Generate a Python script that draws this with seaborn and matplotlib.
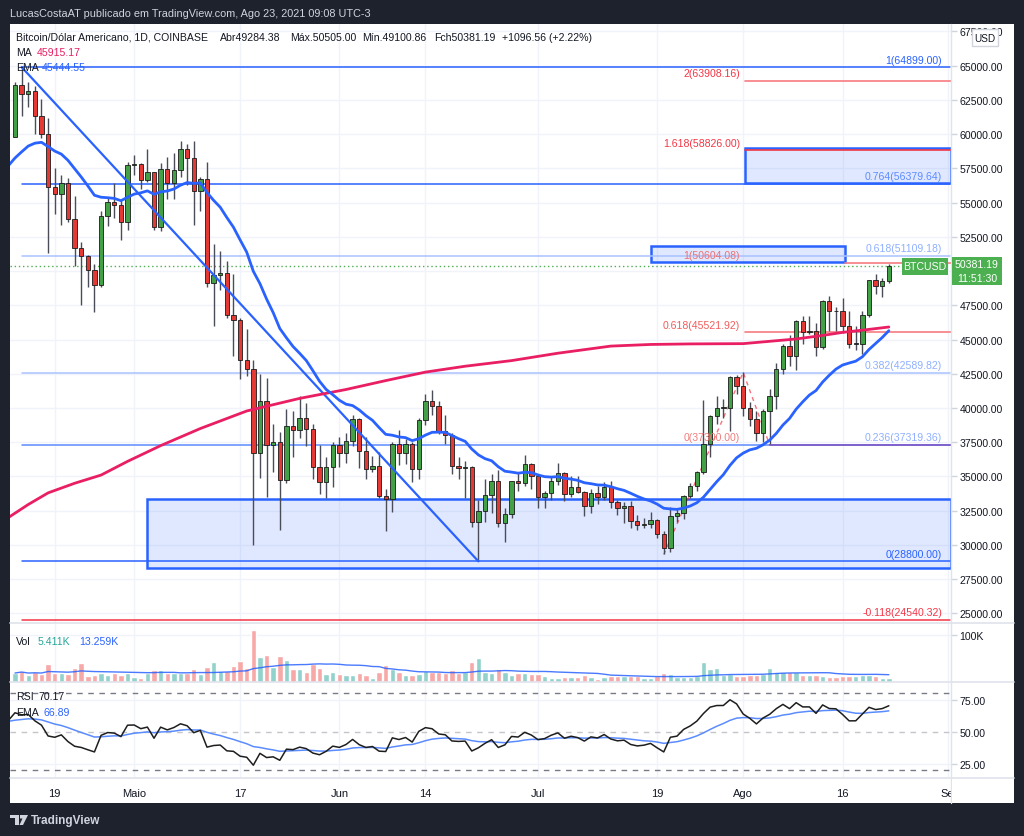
import numpy as np
import pandas as pd
import matplotlib
matplotlib.use("Agg")
import matplotlib.pyplot as plt
import seaborn as sns
from matplotlib.patches import Rectangle, Polygon
from matplotlib.lines import Line2D

sns.set_theme(style="white")
plt.rcParams["font.family"] = ["Liberation Sans", "DejaVu Sans"]

# ---------------- data ----------------
start_date = "2021-04-13"
end_date = "2021-08-23"
first_open = 59822.0
closes = [63575, 62959, 63159, 61334, 60006, 56150, 55633, 56425, 53787, 51690, 51125, 50047, 49004, 54021, 55033, 54824, 53555, 57750,
          57828, 56631, 57200, 53241, 57473, 56428, 57380, 58929, 58280, 55859, 56704, 49150, 49716, 49880, 46760, 46457, 43538, 42850, 36690, 40527,
          37290, 37536, 34770, 38705, 38402, 39294, 38436, 35697, 34616, 35678, 37332,
          36684, 37575, 39188, 36851, 35520, 35796, 33552, 33380, 37389, 36702, 37334, 35552, 39097, 40516, 40144, 38349, 38053, 35787, 35615, 35698,
          31676, 32505, 33675, 34663, 31584, 32283, 34700, 34494, 35911, 35045,
          33504, 33786, 34669, 35287, 33746, 34235, 33855, 32877, 33798, 33520, 34240, 33155, 32702, 32822, 31780, 31421, 31533, 31796, 30817, 29807,
          32110, 32313, 33581, 34292, 35350, 37337, 39406, 39995, 40008, 42235, 41626,
          39974, 39202, 38152, 39747, 40869, 42816, 44555, 43798, 46365, 45585, 45593, 44428, 47793, 47096, 47047, 45993, 44696, 44707, 46760, 49339,
          48905, 49284.38, 50381.19]
highs = [63800, 64899, 63800, 63520, 62572, 61200, 57500, 57000, 56800, 55500, 52100, 51200, 50500, 54400, 55400, 56400, 55200, 58000,
         58450, 57900, 58900, 57200, 57900, 58300, 58600, 59500, 59250, 59500, 56900, 58000, 52000, 51500, 50700, 49800, 46600, 45800, 43500, 42500,
         42200, 38800, 38250, 39900, 39800, 40850, 40400, 38800, 37300, 36400, 37500,
         37900, 38200, 39500, 39250, 37900, 36500, 36800, 34100, 37500, 38400, 37700, 37500, 39300, 41000, 41300, 40500, 39500, 38200, 36400, 36100,
         35750, 33300, 34800, 35200, 35500, 32700, 34700, 35300, 36600, 36000,
         35100, 33950, 34950, 35950, 35300, 35000, 35000, 33900, 34100, 34300, 34600, 34650, 33300, 33100, 33200, 32200, 31950, 32400, 31880, 31050,
         32800, 32600, 33650, 34500, 35400, 40550, 39500, 40900, 40650, 42300, 42400,
         42600, 40450, 39800, 39900, 41400, 43300, 44700, 45300, 46450, 46700, 46700, 46200, 47900, 48150, 47400, 48000, 47100, 46000, 47050, 49350,
         49800, 49500, 50505.00]
lows = [59800, 61301, 62020, 60000, 59700, 51300, 54200, 53400, 53600, 50400, 47500, 48800, 47000, 48800, 53300, 53900, 52300, 53000,
        57000, 56000, 56500, 53000, 52900, 55300, 55300, 56900, 56300, 53400, 54400, 48800, 46000, 48600, 46600, 43800, 42100, 42300, 30000, 34900,
        33500, 35300, 31100, 34500, 36400, 37800, 37200, 34800, 33700, 33400, 34200,
        35700, 36000, 37200, 35600, 34800, 35300, 33400, 31000, 32400, 35800, 35900, 34600, 34800, 38750, 39500, 38100, 37400, 35200, 34800, 33400,
        31300, 28800, 31700, 32300, 31300, 30200, 32000, 33900, 34300, 34100,
        32700, 32700, 33300, 34400, 33200, 33500, 33800, 32100, 32300, 33000, 33300, 32700, 32200, 31600, 31200, 31100, 31200, 31200, 30500, 29300,
        29500, 31700, 31900, 33400, 33900, 35200, 36400, 38800, 39250, 38300, 41000,
        39400, 38700, 37600, 37500, 37400, 39900, 42500, 43100, 42800, 44700, 45400, 43800, 44300, 45600, 45600, 45500, 44400, 44200, 43950, 46650,
        48300, 48100, 49100.86]
opens = [first_open] + closes[:-1]

volumes_k = [19.6, 23.8, 15.4, 21.7, 17.5, 38.6, 19.0, 19.6, 17.5, 31.0, 41.6, 14.1, 16.2, 19.6, 16.2, 19.0, 16.2, 19.0, 12.0, 9.9,
             19.0, 26.0, 26.0, 19.6, 19.6, 19.6, 19.6, 28.1, 18.4, 32.3, 43.7, 24.7, 23.2, 33.8, 44.9, 29.5, 110.4, 52.8, 57.6, 31.7,
             54.9, 47.1, 28.1, 28.1, 22.6, 38.0, 29.5, 18.4, 22.6, 18.4, 16.2, 16.2, 20.5, 16.2, 9.9, 22.6, 37.3, 28.1, 22.6, 16.2,
             16.2, 18.4, 23.2, 21.1, 21.1, 19.0, 26.0, 19.6, 21.1, 43.7, 50.6, 21.1, 19.6, 28.1, 21.1,
             16.2, 19.0, 20.5, 17.5, 17.5, 14.1, 8.4, 8.4, 12.0, 12.0, 12.0, 16.2, 10.6, 6.3, 10.6, 12.7, 12.7, 12.7, 14.1, 12.7,
             8.4, 8.4, 14.1, 19.6, 17.5, 12.0, 12.0, 12.0, 12.7, 43.7, 28.1, 30.2, 16.2, 17.5, 12.7, 12.7, 16.2, 16.2, 17.5, 29.5,
             22.6, 22.6, 22.6, 22.6, 16.2, 15.4, 16.2, 14.1, 10.6, 10.6, 12.7, 14.1, 12.7, 15.4, 16.2, 12.7, 8.4, 8.4]

# 200-day simple moving average, read at sampled days (day 0 = 13 Apr)
ma200_day = [-1, 2, 5, 9, 13, 17, 22, 28, 35, 43, 50, 56, 62, 68, 75, 82, 90, 96, 102, 110, 118, 122, 125, 129, 132]
ma200_val = [32000, 32950, 33800, 34500, 35100, 36100, 37250, 38500, 39780, 40700, 41350, 42000, 42620, 43050, 43460, 44000, 44520,
             44640, 44680, 44700, 45040, 45300, 45520, 45740, 45915]

ema_seed = 57700.0
rsi_seed_gain = 1000.0
rsi_seed_loss = 700.0
rsi_ema_seed = 58.0

fib_blue_levels = ["1", "0.764", "0.618", "0.382", "0.236", "0", "-0.118"]
fib_blue_prices = [64899.00, 56379.64, 51109.18, 42589.82, 37319.36, 28800.00, 24540.32]
fib_red_levels = ["2", "1.618", "1", "0.618", "0"]
fib_red_prices = [63908.16, 58826.00, 50604.08, 45521.92, 37300.00]

tick_dates = ["2021-04-19", "2021-05-01", "2021-05-17", "2021-06-01", "2021-06-14", "2021-07-01",
              "2021-07-19", "2021-08-01", "2021-08-16", "2021-09-01"]
tick_labels = ["19", "Maio", "17", "Jun", "14", "Jul", "19", "Ago", "16", "Set"]
price_ticks = list(range(25000, 67501, 2500))

# ---------------- derived ----------------
dates = pd.date_range(start_date, end_date, freq="D")
d = np.array((dates - dates[0]).days, dtype=float)
o = np.array(opens, float); c = np.array(closes, float)
h = np.array(highs, float); l = np.array(lows, float)
up = c >= o

ema = pd.Series([ema_seed] + closes).ewm(span=20, adjust=False).mean().values
ema_x = np.concatenate([[-1.0], d])

ag, al = rsi_seed_gain, rsi_seed_loss
rsi = [100 - 100 / (1 + ag / al)]
prev = first_open
for cc in closes:
    ch = cc - prev
    ag = (ag * 13 + max(ch, 0)) / 14
    al = (al * 13 + max(-ch, 0)) / 14
    rsi.append(100 - 100 / (1 + ag / al))
    prev = cc
rsi = np.array(rsi)
rsi_ema = pd.Series([rsi_ema_seed] + list(rsi)).ewm(span=14, adjust=False).mean().values[1:]
vol_ma = pd.Series(volumes_k).rolling(20, min_periods=1).mean().values

# ---------------- figure geometry ----------------
W, H = 1024, 837
def fx(x): return x / W
def fy(y): return 1 - y / H
PX0, PXD = 15.0, 6.62
def dx(px): return (px - PX0) / PXD

fig = plt.figure(figsize=(W / 100, H / 100), dpi=100)
fig.patch.set_facecolor("#1e222d")
fig.add_artist(Rectangle((fx(10), fy(804)), (1014 - 10) / W, (804 - 25) / H, transform=fig.transFigure,
                         facecolor="white", edgecolor="none", zorder=-10))

main = fig.add_axes([fx(10), fy(624), 941 / W, (624 - 25) / H])
volax = fig.add_axes([fx(10), fy(683.3), 941 / W, (683.3 - 624) / H], sharex=main)
rsiax = fig.add_axes([fx(10), fy(779.3), 941 / W, (779.3 - 683.3) / H], sharex=main)

xl = (dx(10), dx(951))
tick_d = [(pd.Timestamp(t) - dates[0]).days for t in tick_dates]
for ax in (main, volax, rsiax):
    ax.set_facecolor("none")
    for s in ax.spines.values():
        s.set_visible(False)
    ax.set_xlim(*xl)
    for t in tick_d:
        ax.axvline(t, color="#f0f3fa", lw=1, zorder=0)
    ax.yaxis.tick_right()
    ax.tick_params(axis="y", which="both", right=True, length=4, width=1, color="#d1d4dc",
                   labelsize=7.6, labelcolor="#131722", pad=2)
    ax.tick_params(axis="x", which="both", bottom=False, labelbottom=False)
    ax.grid(False)

GRID = "#f0f3fa"
# ---------------- main pane ----------------
main.set_ylim(24295, 68046)
main.set_yticks(price_ticks)
# the 50000 label sits under the last-price tag, so it is not visible
main.set_yticklabels(["" if p == 50000 else f"{p:.2f}" for p in price_ticks])
for p in price_ticks:
    main.axhline(p, color=GRID, lw=1, zorder=0)

rect_fc = (0.161, 0.384, 1.0, 0.14)
rect_ec = "#2962ff"
for (x0, x1, y0, y1) in [(20, dx(951), 28285, 33344), (dx(651), dx(845), 50640, 51810), (dx(745), dx(951), 56440, 59010)]:
    main.add_patch(Rectangle((x0, y0), x1 - x0, y1 - y0, facecolor=rect_fc, edgecolor=rect_ec, lw=1.8, zorder=1))

blue_line_cols = ["#2962ff", "#2962ff", "#a9c2ff", "#a9c2ff", "#5d8bff", "#2962ff", "#f23645"]
blue_lab_cols = ["#2962ff", "#5d8bff", "#8fb0ff", "#8fb0ff", "#8fb0ff", "#2962ff", "#f23645"]
for lev, pr, lc, tc in zip(fib_blue_levels, fib_blue_prices, blue_line_cols, blue_lab_cols):
    main.plot([1, dx(950)], [pr, pr], color=lc, lw=1.1, zorder=2)
    main.text(dx(942), pr + 180, f"{lev}({pr:.2f})", color=tc, fontsize=7.6, ha="right", va="bottom", zorder=6)

red_starts = [dx(745), dx(745), dx(845), dx(745), dx(770)]
red_line_cols = ["#f77c80", "#f23645", "#f77c80", "#f77c80", "#7e57c2"]
red_lab_cols = ["#f23645", "#f23645", "#ef7070", "#f25c5c", "#f07c7c"]
for lev, pr, x0, lc, tc in zip(fib_red_levels, fib_red_prices, red_starts, red_line_cols, red_lab_cols):
    main.plot([x0, dx(951)], [pr, pr], color=lc, lw=1.2, zorder=2)
    main.text(dx(740), pr + 180, f"{lev}({pr:.2f})", color=tc, fontsize=7.6, ha="right", va="bottom", zorder=6)

# trend-based extension path (dashed)
main.plot([98, 110, 114], [29296, 42600, 37300], color="#f23645", lw=1, ls=(0, (3, 3)), alpha=0.7, zorder=2)

# candles
main.vlines(d, l, h, color="#4a4d57", lw=1, zorder=3)
body_low = np.minimum(o, c)
body_h = np.maximum(np.abs(c - o), 70)
main.bar(d, body_h, bottom=body_low, width=0.66, color=np.where(up, "#43a047", "#e53935"),
         edgecolor="#1b1b1b", linewidth=0.6, zorder=4)

# current price dotted line
main.plot([xl[0], dx(902)], [50381.19, 50381.19], color="#4caf50", lw=1, ls=(0, (1, 2)), zorder=2)

# trend line, moving averages
main.plot([1, 70], [64899, 28800], color="#2962ff", lw=1.6, zorder=5)
sns.lineplot(x=ma200_day, y=ma200_val, ax=main, color="#e91e63", lw=2, zorder=5, estimator=None)
sns.lineplot(x=ema_x, y=ema, ax=main, color="#2962ff", lw=2, zorder=5, estimator=None)
main.set_xlabel(""); main.set_ylabel("")

# ---------------- volume pane ----------------
volax.set_ylim(0, 125.4)
volax.set_yticks([100]); volax.set_yticklabels(["100K"])
volax.axhline(100, color=GRID, lw=1, zorder=0)
volax.bar(d, volumes_k, width=0.82, color=np.where(up, "#92d2cc", "#f7a9a7"), zorder=2)
sns.lineplot(x=d, y=vol_ma, ax=volax, color="#2962ff", lw=1, alpha=0.85, zorder=3, estimator=None)
volax.set_xlabel(""); volax.set_ylabel("")

# ---------------- RSI pane ----------------
rsiax.set_ylim(13.6, 88.6)
rsiax.set_yticks([25, 50, 75]); rsiax.set_yticklabels(["25.00", "50.00", "75.00"])
for v in (25, 75):
    rsiax.axhline(v, color=GRID, lw=1, zorder=0)
rsiax.axhline(80, color="#787b86", lw=1, ls=(0, (4, 4)), zorder=1)
rsiax.axhline(20, color="#787b86", lw=1, ls=(0, (4, 4)), zorder=1)
rsiax.axhline(50, color="#c3c5cb", lw=1, ls=(0, (4, 4)), zorder=1)
sns.lineplot(x=ema_x, y=rsi_ema, ax=rsiax, color="#5b8cff", lw=1.1, zorder=3, estimator=None)
sns.lineplot(x=ema_x, y=rsi, ax=rsiax, color="#1e1e1e", lw=1.1, zorder=4, estimator=None)
rsiax.set_xlabel(""); rsiax.set_ylabel("")
rsiax.set_xticks(tick_d)
rsiax.set_xticklabels(tick_labels)
rsiax.tick_params(axis="x", which="both", bottom=False, labelbottom=True, labelsize=8, labelcolor="#131722", pad=1)

# ---------------- separators & overlay texts ----------------
SEP = "#e0e3eb"
fig.add_artist(Line2D([fx(951), fx(951)], [fy(25), fy(804)], color=SEP, lw=1, transform=fig.transFigure, zorder=5))
for yy in (624, 683.3, 779.3):
    fig.add_artist(Line2D([fx(10), fx(1014)], [fy(yy), fy(yy)], color=SEP, lw=1.2, transform=fig.transFigure, zorder=5))
# cover clipped date label in price-scale column
fig.add_artist(Rectangle((fx(952), fy(803.5)), 62 / W, 24 / H, transform=fig.transFigure,
                         facecolor="white", edgecolor="none", zorder=5))

def ftext(x, y, s, color="#131722", size=7.6, **kw):
    fig.text(fx(x), fy(y), s, color=color, fontsize=size, va="center", zorder=8, **kw)

def fbox(x0, y0, x1, y1, fc, ec="none"):
    fig.add_artist(Rectangle((fx(x0), fy(y1)), (x1 - x0) / W, (y1 - y0) / H, transform=fig.transFigure,
                             facecolor=fc, edgecolor=ec, lw=1, zorder=7))

ftext(10, 14, "LucasCostaAT publicado em TradingView.com, Ago 23, 2021 09:08 UTC-3", color="#d1d4dc", size=7.8)
ftext(16, 38, "Bitcoin/Dólar Americano, 1D, COINBASE")
ftext(220, 38, "Abr49284.38")
ftext(290, 38, "Máx.50505.00")
ftext(362, 38, "Mín.49100.86")
ftext(434, 38, "Fch50381.19")
ftext(502, 38, "+1096.56 (+2.22%)")
ftext(16, 53, "MA")
ftext(37, 53, "45915.17", color="#e91e63")
ftext(16, 68, "EMA")
ftext(42, 68, "45444.55", color="#2962ff")
ftext(16, 642, "Vol")
ftext(38, 642, "5.411K", color="#26a69a")
ftext(79, 642, "13.259K", color="#2962ff")
ftext(16, 697, "RSI")
ftext(38, 697, "70.17")
ftext(16, 713, "EMA")
ftext(43, 713, "66.89", color="#2962ff")

# price labels on the right
fbox(902, 259, 948, 276, "#4caf50")
ftext(925, 267.5, "BTCUSD", color="white", size=7.6, ha="center")
fbox(952, 258, 1002, 286, "#4caf50")
ftext(977, 265.5, "50381.19", color="white", size=7.6, ha="center")
ftext(977, 279, "11:51:30", color="white", size=7.6, ha="center")
fbox(972, 30, 998, 47, "white", ec="#d1d4dc")
ftext(985, 38.5, "USD", size=7.2, ha="center")

# footer logo + text
fig.add_artist(Polygon([[fx(10), fy(816)], [fx(19), fy(816)], [fx(19), fy(826)], [fx(15), fy(826)], [fx(15), fy(819)], [fx(10), fy(819)]],
                       closed=True, transform=fig.transFigure, facecolor="#d1d4dc", edgecolor="none", zorder=8))
fig.add_artist(Polygon([[fx(20), fy(816)], [fx(28), fy(816)], [fx(23), fy(826)], [fx(19.5), fy(826)], [fx(22.5), fy(819.5)], [fx(20), fy(819.5)]],
                       closed=True, transform=fig.transFigure, facecolor="#d1d4dc", edgecolor="none", zorder=8))
ftext(31, 821, "TradingView", color="#d1d4dc", size=8.5, fontweight="bold")

fig.savefig("out.png", dpi=100, facecolor=fig.get_facecolor())
